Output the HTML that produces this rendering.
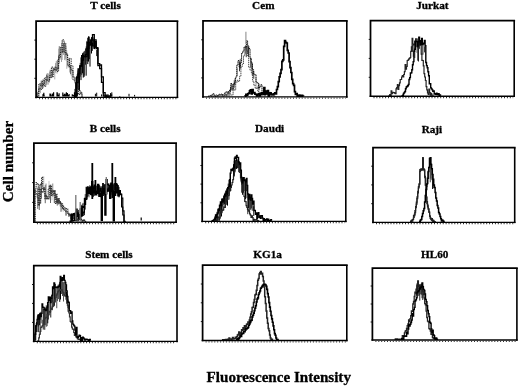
<!DOCTYPE html>
<html><head><meta charset="utf-8"><title>Flow cytometry histograms</title><style>
html,body{margin:0;padding:0;background:#fff;}
body{width:520px;height:386px;position:relative;overflow:hidden;}
svg{position:absolute;left:0;top:0;filter:blur(0.3px);}
text{font-family:"Liberation Serif",serif;font-weight:bold;fill:#000;stroke:#000;stroke-width:0.3px;}
</style></head><body>
<svg width="520" height="386" viewBox="0 0 520 386">
<path d="M37.50,91.9V96.8M48.00,73.7V84.7M59.25,46.1V63.5M60.00,46.6V59.5M63.75,43.2V55.0M65.25,43.9V58.7" stroke="#777" stroke-width="0.9" fill="none"/><path d="M38.25,90.0V96.8M39.00,87.6V95.5M40.50,83.5V93.2M43.50,81.5V88.2M45.00,77.0V87.0M46.50,74.0V83.8M48.75,73.5V80.5M49.50,71.5V82.6M51.75,69.3V78.2M54.00,67.5V75.0M54.75,66.4V79.4M58.50,48.7V61.4M62.25,40.7V59.9M63.00,42.7V54.9M64.50,45.0V60.1M66.75,50.3V68.8M71.25,66.1V75.9M72.00,69.0V78.8M75.75,81.9V89.0" stroke="#aaa" stroke-width="0.9" fill="none"/><path d="M39.75,84.2V91.3M47.25,73.0V80.9M55.50,63.1V72.7M56.25,61.1V69.1M57.00,60.6V73.5M61.50,43.0V62.0M66.00,46.2V60.5M68.25,58.2V67.6M69.75,62.0V72.5" stroke="#999" stroke-width="0.9" fill="none"/><path d="M41.25,80.6V87.3M42.00,82.0V88.3M50.25,69.8V77.7M52.50,70.2V77.2M57.75,59.6V68.9M70.50,64.9V74.2M76.50,83.9V89.3M77.25,83.5V88.7" stroke="#555" stroke-width="0.9" fill="none"/>
<path d="M75.00,88.9V96.8M75.75,82.5V96.8M76.50,76.3V91.9M77.25,74.3V94.5M78.75,69.0V90.1M79.50,67.4V90.9M81.00,57.4V80.1M82.50,53.3V73.3M83.25,52.6V77.6M84.00,51.6V77.0M87.00,40.9V61.2M87.75,37.7V64.1M88.50,36.3V61.6M89.25,36.6V59.2M90.00,38.8V66.6M91.50,37.1V53.5M92.25,37.8V50.9M93.00,37.3V44.9M93.75,39.2V48.8M94.50,39.3V49.1M95.25,41.3V48.0M96.00,42.2V47.2M96.75,49.8V56.1" stroke="#000" stroke-width="1.0" fill="none"/><path d="M78.00,70.5V88.6M80.25,62.9V76.7M81.75,55.2V74.9M84.75,50.8V75.7M85.50,48.4V64.7M86.25,46.4V75.7" stroke="#222" stroke-width="1.0" fill="none"/>
<path d="M37.0,96.8V96.6H38.8V83.8H40.6V85.6H42.4V84.4H44.2V78.7H46.0V80.6H47.8V81.1H49.6V75.6H51.4V67.1H53.2V70.1H55.0V67.2H56.8V71.4H58.6V55.3H60.4V47.5H62.2V51.9H64.0V43.0H65.8V53.8H67.6V65.7H69.4V58.4H71.2V65.9H73.0V80.1H74.8V80.1H76.6V87.8H78.4V94.6H80.2V92.3H82.0V96.8" fill="none" stroke="#222" stroke-width="1.0" stroke-dasharray="1.3 0.9"/>
<path d="M37.0,96.8V93.4H38.8V88.3H40.6V89.3H42.4V80.1H44.2V86.2H46.0V76.0H47.8V79.6H49.6V77.7H51.4V76.9H53.2V69.2H55.0V70.0H56.8V68.9H58.6V57.7H60.4V52.5H62.2V39.8H64.0V52.2H65.8V54.7H67.6V59.5H69.4V67.6H71.2V70.4H73.0V77.2H74.8V83.0H76.6V85.8H78.4V89.9H80.2V93.8H82.0V96.8" fill="none" stroke="#222" stroke-width="1.0" stroke-dasharray="1.3 0.9"/>
<path d="M74.5,96.8V95.7H76.3V82.6H78.1V68.8H79.9V65.9H81.7V55.7H83.5V56.7H85.3V54.7H87.1V48.4H88.9V42.3H90.7V40.2H92.5V34.6H94.3V41.7H96.1V48.7H97.9V63.7H99.7V65.0H101.5V76.9H103.3V96.1H105.1V95.1H106.9V96.3H108.7V96.1H110.5V96.8" fill="none" stroke="#000" stroke-width="1.3"/>
<path d="M74.5,96.8V96.4H76.3V77.6H78.1V73.5H79.9V66.0H81.7V60.0H83.5V56.3H85.3V56.7H87.1V42.6H88.9V45.1H90.7V43.4H92.5V45.9H94.3V39.9H96.1V47.7H97.9V65.6H99.7V68.6H101.5V82.4H103.3V92.7H105.1V96.5H106.9V96.2H108.7V96.1H110.5V96.8" fill="none" stroke="#000" stroke-width="1.3"/>
<path d="M74.5,92.3V96.5M66.2,94.1V96.5M66.4,92.2V96.5M43.8,92.8V96.5M77.2,93.4V96.5M63.3,96.4V96.5M67.4,92.9V96.5M57.3,92.5V96.5M52.3,93.4V96.5M42.7,95.8V96.5M74.3,94.3V96.5M64.9,94.7V96.5M65.8,96.5V96.5M62.8,92.6V96.5M66.9,95.1V96.5M72.8,95.1V96.5M53.6,92.2V96.5M58.1,94.8V96.5M68.4,95.0V96.5M63.5,94.7V96.5M50.4,93.8V96.5M57.0,92.2V96.5M76.3,92.4V96.5M76.9,95.6V96.5M50.0,93.6V96.5M50.9,94.8V96.5M43.1,93.9V96.5M69.1,94.0V96.5M64.6,93.9V96.5M64.6,95.9V96.5M66.3,96.0V96.5M72.3,94.3V96.5M57.0,95.1V96.5M66.6,93.4V96.5M64.5,93.8V96.5M77.3,93.0V96.5M57.1,95.8V96.5M59.1,93.2V96.5M50.2,95.3V96.5M66.0,93.4V96.5M53.2,94.3V96.5M73.3,95.0V96.5M44.1,94.8V96.5M75.9,93.9V96.5M73.4,96.1V96.5" stroke="#000" stroke-width="1.2" fill="none"/>
<path d="M101.6,94.4V96.5M110.5,93.1V96.5M123.2,96.4V96.5M134.6,94.9V96.5M129.0,93.8V96.5M108.0,94.2V96.5M119.7,96.1V96.5M111.7,94.3V96.5M111.8,92.3V96.5M96.7,92.7V96.5M119.9,96.0V96.5M95.4,93.8V96.5" stroke="#000" stroke-width="1.0" fill="none"/>
<path d="M36.1,98.15V21H178.3" fill="none" stroke="#000" stroke-width="1.75"/>
<path d="M177.4,21V98.15" fill="none" stroke="#000" stroke-width="1.6"/>
<path d="M35.2,97.4H178.20000000000002" fill="none" stroke="#000" stroke-width="1.4"/>
<line x1="39.1" y1="98.7" x2="176.4" y2="98.7" stroke="#333" stroke-width="1.3" stroke-dasharray="1 1.9"/>
<line x1="34.300000000000004" y1="40.1" x2="36.1" y2="40.1" stroke="#000" stroke-width="0.9"/>
<line x1="34.300000000000004" y1="59.2" x2="36.1" y2="59.2" stroke="#000" stroke-width="0.9"/>
<line x1="34.300000000000004" y1="78.3" x2="36.1" y2="78.3" stroke="#000" stroke-width="0.9"/>
<path d="M226.00,93.4V96.3M233.50,83.2V88.7M237.25,68.1V76.1M245.50,45.0V53.8M256.00,77.6V86.1" stroke="#888" stroke-width="0.9" fill="none"/><path d="M226.75,93.9V96.3M229.00,91.7V96.3M230.50,86.9V92.4M239.50,62.5V71.3M246.25,46.3V57.2M247.75,45.9V53.8M248.50,47.1V56.7M250.75,57.8V67.5M252.25,63.7V75.4M253.75,71.2V78.8M259.00,83.7V90.3M264.25,90.2V94.0M265.00,92.3V96.3" stroke="#222" stroke-width="0.9" fill="none"/><path d="M232.00,84.7V90.8M234.25,80.2V87.8M235.00,78.3V84.8M240.25,58.8V68.8" stroke="#444" stroke-width="0.9" fill="none"/><path d="M251.50,62.1V69.5" stroke="#666" stroke-width="0.9" fill="none"/>
<path d="M208.0,96.3V96.2H209.2V95.9H210.4V95.1H211.6V95.4H212.8V93.7H214.0V95.2H215.2V96.3H216.4V96.0H217.6V95.3H218.8V94.3H220.0V94.6H221.2V94.0H222.4V96.0H223.6V96.0H224.8V92.8H226.0V91.7H227.2V93.1H228.4V91.5H229.6V90.0H230.8V83.5H232.0V89.3H233.2V84.3H234.4V82.1H235.6V77.0H236.8V65.2H238.0V60.6H239.2V67.3H240.4V62.6H241.6V53.0H242.8V51.1H244.0V47.0H245.2V47.3H246.4V40.7H247.6V45.8H248.8V48.6H250.0V58.2H251.2V62.9H252.4V69.6H253.6V74.1H254.8V74.7H256.0V82.0H257.2V83.2H258.4V88.0H259.6V86.8H260.8V84.8H262.0V93.9H263.2V91.0H264.4V90.8H265.6V91.3H266.8V91.5H268.0V95.6H269.2V92.3H270.4V95.2H271.6V95.0H272.8V95.7H274.0V96.0H275.2V96.3" fill="none" stroke="#111" stroke-width="1.0" stroke-dasharray="1.6 0.5"/>
<path d="M211.0,96.3V96.3H212.3V96.3H213.6V96.0H214.9V96.1H216.2V94.9H217.5V96.1H218.8V95.8H220.1V95.2H221.4V95.8H222.7V94.8H224.0V93.9H225.3V94.9H226.6V95.0H227.9V92.6H229.2V93.7H230.5V95.0H231.8V94.9H233.1V89.1H234.4V90.1H235.7V82.7H237.0V80.3H238.3V81.4H239.6V76.3H240.9V67.1H242.2V64.2H243.5V55.7H244.8V46.6H246.1V50.0H247.4V55.9H248.7V67.2H250.0V70.2H251.3V72.6H252.6V81.2H253.9V85.4H255.2V88.5H256.5V87.1H257.8V91.7H259.1V92.9H260.4V93.6H261.7V95.2H263.0V92.9H264.3V93.1H265.6V91.9H266.9V93.9H268.2V94.9H269.5V94.6H270.8V96.3H272.1V96.3" fill="none" stroke="#333" stroke-width="0.9" stroke-dasharray="1.4 0.7"/>
<path d="M245.0,96.3V96.1H245.9V94.4H246.8V95.1H247.7V93.9H248.6V93.1H249.5V90.8H250.4V89.8H251.3V94.0H252.2V89.6H253.1V92.8H254.0V92.5H254.9V94.2H255.8V94.5H256.7V95.8H257.6V94.4H258.5V93.9H259.4V95.9H260.3V94.3H261.2V92.9H262.1V92.9H263.0V94.3H263.9V87.6H264.8V94.4H265.7V91.1H266.6V93.8H267.5V90.6H268.4V96.2H269.3V93.4H270.2V92.8H271.1V94.0H272.0V94.2H272.9V94.3H273.8V93.9H274.7V92.8H275.6V93.9H276.5V89.5H277.4V86.6H278.3V81.6H279.2V76.9H280.1V73.4H281.0V69.7H281.9V61.4H282.8V59.8H283.7V46.4H284.6V40.7H285.5V42.4H286.4V43.0H287.3V50.3H288.2V53.0H289.1V61.6H290.0V67.7H290.9V72.5H291.8V79.3H292.7V83.6H293.6V85.3H294.5V91.7H295.4V94.3H296.3V93.6H297.2V96.2H298.1V95.9H299.0V95.0H299.9V96.1H300.8V96.0H301.7V95.4H302.6V96.1H303.5V96.3" fill="none" stroke="#000" stroke-width="1.7"/>
<path d="M245.9,31.8V44" stroke="#999" stroke-width="1.2"/>
<path d="M203,97.65V20.8H347.7" fill="none" stroke="#000" stroke-width="1.75"/>
<path d="M346.8,20.8V97.65" fill="none" stroke="#000" stroke-width="1.6"/>
<path d="M202.1,96.9H347.6" fill="none" stroke="#000" stroke-width="1.4"/>
<line x1="206" y1="98.2" x2="345.8" y2="98.2" stroke="#333" stroke-width="1.3" stroke-dasharray="1 1.9"/>
<line x1="201.2" y1="39.8" x2="203" y2="39.8" stroke="#000" stroke-width="0.9"/>
<line x1="201.2" y1="58.9" x2="203" y2="58.9" stroke="#000" stroke-width="0.9"/>
<line x1="201.2" y1="77.9" x2="203" y2="77.9" stroke="#000" stroke-width="0.9"/>
<path d="M412.50,45.2V51.9M414.75,40.6V58.0M417.75,44.6V60.7M418.50,41.4V61.5" stroke="#111" stroke-width="0.9" fill="none"/><path d="M413.25,44.1V56.8M417.00,39.0V52.9M419.25,37.1V49.1M422.25,42.0V54.6M423.00,44.5V54.7" stroke="#444" stroke-width="0.9" fill="none"/><path d="M424.50,46.4V52.4" stroke="#222" stroke-width="0.9" fill="none"/>
<path d="M389.0,95.7V95.6H389.7V94.5H390.4V95.4H391.1V90.9H391.8V93.6H392.5V92.4H393.2V92.7H393.9V92.6H394.6V93.2H395.3V93.6H396.0V88.8H396.7V87.6H397.4V84.7H398.1V89.3H398.8V85.7H399.5V82.8H400.2V79.5H400.9V79.5H401.6V77.0H402.3V75.6H403.0V77.0H403.7V74.5H404.4V71.7H405.1V64.5H405.8V69.2H406.5V66.5H407.2V60.5H407.9V60.2H408.6V59.2H409.3V58.4H410.0V57.5H410.7V51.3H411.4V46.9H412.1V38.4H412.8V44.0H413.5V44.8H414.2V44.3H414.9V41.7H415.6V38.8H416.3V38.9H417.0V46.6H417.7V47.1H418.4V48.0H419.1V42.4H419.8V45.2H420.5V44.9H421.2V54.2H421.9V60.3H422.6V60.5H423.3V65.8H424.0V73.6H424.7V77.0H425.4V80.5H426.1V86.6H426.8V89.8H427.5V93.0H428.2V94.4H428.9V89.1H429.6V92.7H430.3V95.2H431.0V93.3H431.7V95.1H432.4V95.0H433.1V95.7" fill="none" stroke="#222" stroke-width="1.2"/>
<path d="M402.0,95.7V95.6H402.7V95.2H403.4V93.5H404.1V92.5H404.8V91.5H405.5V88.8H406.2V87.0H406.9V86.5H407.6V85.8H408.3V84.5H409.0V79.5H409.7V77.6H410.4V73.0H411.1V72.9H411.8V69.7H412.5V64.8H413.2V61.6H413.9V51.3H414.6V49.2H415.3V41.1H416.0V41.6H416.7V41.4H417.4V46.1H418.1V41.8H418.8V37.1H419.5V40.8H420.2V44.5H420.9V40.7H421.6V38.4H422.3V44.6H423.0V43.8H423.7V43.3H424.4V40.5H425.1V45.7H425.8V62.5H426.5V65.6H427.2V67.7H427.9V71.8H428.6V75.8H429.3V83.8H430.0V83.7H430.7V87.9H431.4V88.9H432.1V89.9H432.8V91.4H433.5V90.9H434.2V93.8H434.9V94.1H435.6V94.4H436.3V93.1H437.0V94.5H437.7V94.3H438.4V93.6H439.1V95.6H439.8V95.0H440.5V95.7" fill="none" stroke="#000" stroke-width="1.4"/>
<path d="M370.5,97.0V20.5H515.1" fill="none" stroke="#000" stroke-width="1.75"/>
<path d="M514.2,20.5V97.0" fill="none" stroke="#000" stroke-width="1.6"/>
<path d="M369.6,96.25H515.0" fill="none" stroke="#000" stroke-width="1.4"/>
<line x1="373.5" y1="97.55" x2="513.2" y2="97.55" stroke="#333" stroke-width="1.3" stroke-dasharray="1 1.9"/>
<line x1="368.7" y1="39.4" x2="370.5" y2="39.4" stroke="#000" stroke-width="0.9"/>
<line x1="368.7" y1="58.4" x2="370.5" y2="58.4" stroke="#000" stroke-width="0.9"/>
<line x1="368.7" y1="77.3" x2="370.5" y2="77.3" stroke="#000" stroke-width="0.9"/>
<path d="M37.75,187.8V208.9M39.25,188.1V210.0M41.50,181.8V198.8M45.25,185.1V203.2M50.50,185.2V203.0M57.25,197.7V205.6M60.25,201.9V206.4M61.00,204.4V211.8M66.25,209.4V215.6M69.25,212.9V216.7" stroke="#555" stroke-width="0.9" fill="none"/><path d="M40.75,184.4V203.5M46.00,183.6V196.2M52.75,183.5V196.9M54.25,192.1V202.9M55.00,190.0V196.9M56.50,195.4V203.2M58.75,199.0V204.7" stroke="#777" stroke-width="0.9" fill="none"/><path d="M43.75,176.3V193.2M49.00,180.9V197.0M52.00,186.9V200.3M63.25,206.1V211.7" stroke="#bbb" stroke-width="0.9" fill="none"/><path d="M61.75,203.9V210.6M62.50,205.0V209.3M65.50,208.9V215.6M68.50,213.2V217.0" stroke="#999" stroke-width="0.9" fill="none"/>
<path d="M86.00,186.8V198.0M87.50,186.2V196.9M88.25,186.5V196.3M94.25,187.3V196.0M98.00,185.1V195.6M107.75,183.4V192.1M110.00,183.4V194.0M116.75,184.3V193.1" stroke="#222" stroke-width="0.9" fill="none"/><path d="M86.75,187.0V198.4M89.00,186.0V197.4M89.75,185.1V192.0M91.25,185.4V196.1M96.50,185.8V193.4M98.75,185.0V193.6M100.25,185.9V193.1M101.75,186.0V197.0M115.25,183.0V191.9M118.25,185.0V195.3" stroke="#444" stroke-width="0.9" fill="none"/><path d="M92.00,185.7V192.9M93.50,186.1V196.8M95.75,185.4V192.6M99.50,185.2V193.6M101.00,186.8V193.7M102.50,186.2V196.1M104.00,184.8V193.5M104.75,184.3V195.1M105.50,184.4V195.1M108.50,183.3V190.6M113.00,183.0V194.6" stroke="#111" stroke-width="0.9" fill="none"/><path d="M107.00,184.2V194.5M110.75,184.2V195.1M111.50,183.5V190.3M114.50,183.1V190.0M116.00,183.7V190.2M117.50,184.1V191.2M119.00,186.9V197.4" stroke="#000" stroke-width="0.9" fill="none"/>
<path d="M71.00,214.1V219.4M74.75,212.6V219.3" stroke="#000" stroke-width="0.9" fill="none"/><path d="M71.75,213.8V220.8M72.50,214.0V221.6M76.25,211.8V221.4M78.50,209.9V221.1M82.25,204.3V217.0M85.25,194.1V209.6" stroke="#222" stroke-width="0.9" fill="none"/><path d="M73.25,214.1V219.3M74.00,213.7V219.2M77.75,210.8V221.6" stroke="#444" stroke-width="0.9" fill="none"/><path d="M75.50,211.6V218.3M80.00,208.3V219.1M81.50,205.2V217.1M83.00,202.9V213.9M84.50,197.7V215.2" stroke="#111" stroke-width="0.9" fill="none"/>
<path d="M35.0,221.6V190.2H36.1V193.6H37.2V198.1H38.3V205.2H39.4V185.2H40.5V184.4H41.6V177.2H42.7V189.5H43.8V187.9H44.9V196.2H46.0V195.4H47.1V199.0H48.2V198.7H49.3V186.0H50.4V185.2H51.5V195.5H52.6V194.9H53.7V190.6H54.8V203.5H55.9V194.2H57.0V202.0H58.1V198.5H59.2V203.1H60.3V202.5H61.4V206.2H62.5V205.3H63.6V208.7H64.7V207.7H65.8V208.5H66.9V209.3H68.0V213.3H69.1V214.6H70.2V214.5H71.3V214.3H72.4V215.3H73.5V219.4H74.6V219.7H75.7V219.4H76.8V220.0H77.9V220.1H79.0V219.6H80.1V220.1H81.2V220.6H82.3V221.2H83.4V219.8H84.5V221.4H85.6V221.6" fill="none" stroke="#333" stroke-width="1.1" stroke-dasharray="1.4 0.8"/>
<path d="M35.0,221.6V188.7H36.1V182.5H37.2V184.4H38.3V203.8H39.4V202.9H40.5V189.0H41.6V192.3H42.7V191.9H43.8V188.5H44.9V198.8H46.0V196.5H47.1V198.7H48.2V189.7H49.3V186.8H50.4V194.0H51.5V190.2H52.6V192.1H53.7V191.8H54.8V193.5H55.9V199.0H57.0V203.2H58.1V198.8H59.2V201.6H60.3V203.4H61.4V203.9H62.5V208.1H63.6V209.3H64.7V210.3H65.8V211.5H66.9V211.8H68.0V214.7H69.1V215.5H70.2V214.9H71.3V215.6H72.4V217.2H73.5V217.2H74.6V218.4H75.7V219.8H76.8V219.4H77.9V219.3H79.0V219.5H80.1V219.2H81.2V220.2H82.3V220.9H83.4V220.8H84.5V221.5H85.6V221.6" fill="none" stroke="#333" stroke-width="1.1" stroke-dasharray="1.4 0.8"/>
<path d="M70.0,221.6V221.0H71.2V214.1H72.4V221.0H73.6V220.4H74.8V218.0H76.0V216.5H77.2V213.4H78.4V218.7H79.6V214.5H80.8V213.0H82.0V206.5H83.2V207.4H84.4V204.3H85.6V198.4H86.8V187.3H88.0V188.8H89.2V189.0H90.4V186.9H91.6V187.8H92.8V188.3H94.0V185.2H95.2V191.0H96.4V193.2H97.6V184.4H98.8V196.4H100.0V193.3H101.2V220.4H102.4V192.8H103.6V188.6H104.8V215.1H106.0V179.6H107.2V184.5H108.4V185.3H109.6V198.5H110.8V183.1H112.0V184.8H113.2V220.9H114.4V190.9H115.6V193.0H116.8V187.2H118.0V195.7H119.2V190.5H120.4V194.2H121.6V198.1H122.8V215.0H124.0V221.4H125.2V221.6" fill="none" stroke="#000" stroke-width="1.2"/>
<path d="M70.0,221.6V221.5H71.2V215.3H72.4V215.2H73.6V213.7H74.8V220.3H76.0V209.0H77.2V213.2H78.4V214.7H79.6V219.5H80.8V208.7H82.0V215.4H83.2V212.2H84.4V198.7H85.6V199.3H86.8V188.4H88.0V193.4H89.2V187.6H90.4V194.3H91.6V181.6H92.8V192.9H94.0V189.9H95.2V194.8H96.4V193.5H97.6V192.7H98.8V191.1H100.0V188.4H101.2V197.0H102.4V191.4H103.6V193.7H104.8V184.9H106.0V189.0H107.2V191.2H108.4V188.2H109.6V194.0H110.8V184.0H112.0V191.7H113.2V193.7H114.4V192.9H115.6V183.6H116.8V185.7H118.0V195.8H119.2V194.7H120.4V194.4H121.6V207.0H122.8V210.8H124.0V221.5H125.2V221.6" fill="none" stroke="#000" stroke-width="1.2"/>
<path d="M141.2,217.6V220.5" stroke="#000" stroke-width="1.2" fill="none"/>
<path d="M106.3,177V194M75.8,195V220.5M80.2,202V220.5" stroke="#777" stroke-width="1.3"/><path d="M92.3,163V199M112.3,163V198M95.4,180V195M103,183V196M115.4,177V196" stroke="#000" stroke-width="1.8"/>
<path d="M33.9,222.95V143H177.0" fill="none" stroke="#000" stroke-width="1.75"/>
<path d="M176.1,143V222.95" fill="none" stroke="#000" stroke-width="1.6"/>
<path d="M33.0,222.2H176.9" fill="none" stroke="#000" stroke-width="1.4"/>
<line x1="36.9" y1="223.5" x2="175.1" y2="223.5" stroke="#333" stroke-width="1.3" stroke-dasharray="1 1.9"/>
<line x1="32.1" y1="162.8" x2="33.9" y2="162.8" stroke="#000" stroke-width="0.9"/>
<line x1="32.1" y1="182.6" x2="33.9" y2="182.6" stroke="#000" stroke-width="0.9"/>
<line x1="32.1" y1="202.4" x2="33.9" y2="202.4" stroke="#000" stroke-width="0.9"/>
<path d="M214.00,218.7V220.8M214.75,216.5V220.8M215.50,215.3V220.8M217.00,211.8V220.8M220.75,201.9V212.7M221.50,201.1V216.5M223.75,195.4V204.7M224.50,194.0V204.0M225.25,192.4V207.9M226.75,188.6V204.8M227.50,187.0V205.6M230.50,173.4V191.4M233.50,164.1V178.8M234.25,160.9V175.6M235.00,160.5V172.3M235.75,159.8V168.5M236.50,159.0V168.9M237.25,159.3V168.3" stroke="#000" stroke-width="1.0" fill="none"/><path d="M216.25,213.8V220.8M219.25,204.6V218.4M220.00,203.7V217.7M222.25,198.8V212.8M223.00,198.0V207.1M229.00,180.0V199.6" stroke="#333" stroke-width="1.0" fill="none"/><path d="M217.75,209.2V220.8M226.00,190.9V202.5M228.25,183.6V194.5" stroke="#111" stroke-width="1.0" fill="none"/>
<path d="M238.00,160.9V168.0M241.00,170.3V180.7M243.25,179.2V192.5M245.50,180.2V199.3M246.25,179.7V191.2M248.50,196.1V208.1M250.75,197.4V209.8" stroke="#000" stroke-width="1.0" fill="none"/><path d="M238.75,162.7V172.2M241.75,177.1V192.7M242.50,178.3V194.8M244.00,178.8V191.2M247.00,186.2V198.2M249.25,197.3V212.6M253.75,206.3V216.0" stroke="#111" stroke-width="1.0" fill="none"/><path d="M239.50,164.0V173.0M244.75,180.2V191.1M247.75,194.2V214.2M250.00,197.6V207.3M251.50,198.4V208.4M252.25,198.2V210.8" stroke="#333" stroke-width="1.0" fill="none"/>
<path d="M216.0,220.8V220.8H216.7V219.8H217.4V216.8H218.1V217.4H218.8V220.2H219.5V218.1H220.2V211.8H220.9V213.2H221.6V210.4H222.3V210.3H223.0V209.8H223.7V207.2H224.4V207.4H225.1V199.4H225.8V200.7H226.5V200.8H227.2V199.3H227.9V195.7H228.6V195.2H229.3V187.9H230.0V190.5H230.7V187.5H231.4V185.0H232.1V182.5H232.8V179.7H233.5V176.0H234.2V170.1H234.9V168.1H235.6V165.7H236.3V161.8H237.0V161.6H237.7V161.3H238.4V165.7H239.1V164.6H239.8V170.8H240.5V177.9H241.2V181.6H241.9V184.5H242.6V191.3H243.3V191.8H244.0V196.4H244.7V201.3H245.4V201.7H246.1V205.7H246.8V207.5H247.5V209.3H248.2V210.9H248.9V211.2H249.6V213.9H250.3V215.2H251.0V217.3H251.7V215.9H252.4V217.6H253.1V220.7H253.8V219.3H254.5V220.1H255.2V220.2H255.9V219.7H256.6V220.0H257.3V220.7H258.0V220.6H258.7V220.8" fill="none" stroke="#222" stroke-width="1.2"/>
<path d="M212.0,220.8V220.6H212.7V220.6H213.4V219.8H214.1V219.8H214.8V218.7H215.5V214.9H216.2V217.5H216.9V214.4H217.6V213.2H218.3V209.0H219.0V210.5H219.7V205.7H220.4V202.0H221.1V205.6H221.8V199.2H222.5V202.1H223.2V200.8H223.9V196.8H224.6V194.1H225.3V196.0H226.0V191.1H226.7V193.4H227.4V188.6H228.1V187.7H228.8V186.3H229.5V179.6H230.2V173.2H230.9V169.4H231.6V170.5H232.3V168.9H233.0V168.2H233.7V167.9H234.4V158.1H235.1V157.0H235.8V158.7H236.5V155.5H237.2V157.4H237.9V157.5H238.6V162.0H239.3V164.1H240.0V162.8H240.7V170.1H241.4V177.4H242.1V182.8H242.8V180.7H243.5V177.6H244.2V180.7H244.9V179.8H245.6V181.9H246.3V178.5H247.0V185.4H247.7V194.0H248.4V199.0H249.1V194.4H249.8V197.4H250.5V200.2H251.2V194.9H251.9V198.3H252.6V204.1H253.3V201.1H254.0V210.5H254.7V210.3H255.4V214.3H256.1V212.9H256.8V218.6H257.5V214.0H258.2V212.6H258.9V217.3H259.6V216.0H260.3V218.3H261.0V215.6H261.7V215.7H262.4V218.1H263.1V220.3H263.8V218.7H264.5V220.5H265.2V219.6H265.9V220.0H266.6V218.8H267.3V220.7H268.0V219.2H268.7V220.6H269.4V220.5H270.1V220.5H270.8V219.6H271.5V220.8" fill="none" stroke="#000" stroke-width="1.3"/>
<path d="M202.2,222.15V146.8H346.7" fill="none" stroke="#000" stroke-width="1.75"/>
<path d="M345.8,146.8V222.15" fill="none" stroke="#000" stroke-width="1.6"/>
<path d="M201.29999999999998,221.4H346.6" fill="none" stroke="#000" stroke-width="1.4"/>
<line x1="205.2" y1="222.70000000000002" x2="344.8" y2="222.70000000000002" stroke="#333" stroke-width="1.3" stroke-dasharray="1 1.9"/>
<line x1="200.39999999999998" y1="165.5" x2="202.2" y2="165.5" stroke="#000" stroke-width="0.9"/>
<line x1="200.39999999999998" y1="184.1" x2="202.2" y2="184.1" stroke="#000" stroke-width="0.9"/>
<line x1="200.39999999999998" y1="202.8" x2="202.2" y2="202.8" stroke="#000" stroke-width="0.9"/>
<path d="M426.50,185.7V192.2M431.00,163.3V178.6M432.50,175.2V189.0" stroke="#000" stroke-width="0.9" fill="none"/><path d="M427.25,179.7V187.1M428.75,166.8V179.0M431.75,168.0V180.2" stroke="#555" stroke-width="0.9" fill="none"/><path d="M428.00,172.0V184.0M430.25,159.2V182.3" stroke="#333" stroke-width="0.9" fill="none"/><path d="M433.25,181.8V188.3" stroke="#111" stroke-width="0.9" fill="none"/>
<path d="M410.0,221.8V221.8H410.7V221.2H411.4V220.6H412.1V219.8H412.8V219.5H413.5V217.3H414.2V215.7H414.9V212.7H415.6V206.7H416.3V204.2H417.0V198.7H417.7V193.0H418.4V188.0H419.1V183.6H419.8V171.3H420.5V170.5H421.2V169.1H421.9V168.9H422.6V157.8H423.3V169.4H424.0V169.5H424.7V176.3H425.4V185.4H426.1V197.4H426.8V203.6H427.5V207.0H428.2V209.2H428.9V212.1H429.6V216.1H430.3V218.1H431.0V219.7H431.7V218.7H432.4V220.1H433.1V221.3H433.8V221.3H434.5V221.6H435.2V221.8" fill="none" stroke="#222" stroke-width="1.2"/>
<path d="M410.0,221.8V221.8H410.7V221.8H411.4V220.4H412.1V221.2H412.8V219.3H413.5V215.6H414.2V214.3H414.9V210.6H415.6V207.6H416.3V202.1H417.0V196.8H417.7V191.4H418.4V186.7H419.1V184.5H419.8V169.5H420.5V169.2H421.2V169.4H421.9V170.2H422.6V157.8H423.3V168.7H424.0V170.6H424.7V177.6H425.4V184.9H426.1V196.8H426.8V201.7H427.5V205.2H428.2V208.8H428.9V212.1H429.6V216.2H430.3V218.3H431.0V219.4H431.7V220.5H432.4V221.2H433.1V220.3H433.8V221.3H434.5V221.6H435.2V221.8" fill="none" stroke="#222" stroke-width="1.2"/>
<path d="M419.0,221.8V221.8H419.7V221.3H420.4V220.0H421.1V219.4H421.8V216.6H422.5V213.6H423.2V210.7H423.9V208.6H424.6V202.0H425.3V195.4H426.0V189.4H426.7V184.0H427.4V178.2H428.1V171.5H428.8V167.5H429.5V158.5H430.2V157.8H430.9V164.5H431.6V168.8H432.3V174.4H433.0V179.3H433.7V184.9H434.4V187.4H435.1V192.4H435.8V198.0H436.5V200.9H437.2V205.5H437.9V208.0H438.6V212.4H439.3V214.0H440.0V216.6H440.7V218.8H441.4V221.1H442.1V220.0H442.8V221.0H443.5V221.4H444.2V221.8" fill="none" stroke="#000" stroke-width="1.5"/>
<path d="M373,223.15V147.5H515.6" fill="none" stroke="#000" stroke-width="1.75"/>
<path d="M514.7,147.5V223.15" fill="none" stroke="#000" stroke-width="1.6"/>
<path d="M372.1,222.4H515.5" fill="none" stroke="#000" stroke-width="1.4"/>
<line x1="376" y1="223.70000000000002" x2="513.7" y2="223.70000000000002" stroke="#333" stroke-width="1.3" stroke-dasharray="1 1.9"/>
<line x1="371.2" y1="166.2" x2="373" y2="166.2" stroke="#000" stroke-width="0.9"/>
<line x1="371.2" y1="184.9" x2="373" y2="184.9" stroke="#000" stroke-width="0.9"/>
<line x1="371.2" y1="203.7" x2="373" y2="203.7" stroke="#000" stroke-width="0.9"/>
<path d="M35.00,332.4V340.8M35.75,325.0V340.0M43.25,308.9V329.6M44.75,307.3V329.8M47.00,306.0V326.1M50.75,298.1V317.5M58.25,284.6V299.1M65.00,282.0V293.9M68.75,305.3V309.2" stroke="#222" stroke-width="1.0" fill="none"/><path d="M36.50,322.0V332.0M38.00,316.5V326.5M39.50,313.6V325.2M41.00,311.8V323.4M44.00,308.8V324.9M50.00,299.3V312.9M52.25,294.4V310.2M53.00,288.8V302.1M54.50,284.1V305.8M59.75,281.8V301.9M61.25,277.6V294.0M62.75,281.5V296.0M65.75,285.5V296.8M67.25,294.1V303.0M68.00,299.5V307.9" stroke="#111" stroke-width="1.0" fill="none"/><path d="M37.25,316.4V332.1M40.25,316.6V334.2M45.50,307.5V325.2M46.25,305.1V326.8M48.50,303.5V319.5M53.75,285.5V306.8M56.75,286.2V308.2M57.50,286.0V301.1M63.50,282.2V301.5M64.25,282.9V296.3" stroke="#555" stroke-width="1.0" fill="none"/><path d="M38.75,314.0V332.2M47.75,302.2V323.3M55.25,283.8V302.5M60.50,279.7V299.5M66.50,291.9V300.7" stroke="#000" stroke-width="1.0" fill="none"/>
<path d="M38.0,340.8V340.5H38.7V337.9H39.4V334.3H40.1V331.5H40.8V327.4H41.5V326.8H42.2V325.7H42.9V320.4H43.6V320.9H44.3V318.6H45.0V318.4H45.7V317.3H46.4V317.3H47.1V314.5H47.8V315.4H48.5V314.7H49.2V311.4H49.9V311.6H50.6V309.4H51.3V308.6H52.0V307.0H52.7V306.2H53.4V302.5H54.1V300.8H54.8V299.5H55.5V297.5H56.2V295.2H56.9V293.8H57.6V291.9H58.3V291.0H59.0V290.2H59.7V290.3H60.4V289.5H61.1V290.3H61.8V289.8H62.5V292.0H63.2V292.6H63.9V294.3H64.6V295.6H65.3V296.2H66.0V299.1H66.7V303.2H67.4V305.3H68.1V311.2H68.8V312.8H69.5V316.9H70.2V321.5H70.9V322.1H71.6V327.2H72.3V328.9H73.0V329.5H73.7V332.5H74.4V335.4H75.1V334.2H75.8V337.0H76.5V336.6H77.2V338.7H77.9V339.2H78.6V339.3H79.3V339.4H80.0V339.7H80.7V340.4H81.4V340.4H82.1V340.8" fill="none" stroke="#333" stroke-width="1.2"/>
<path d="M35.0,340.8V334.3H35.7V325.8H36.4V324.0H37.1V319.4H37.8V315.1H38.5V318.4H39.2V319.0H39.9V313.5H40.6V316.6H41.3V313.4H42.0V303.8H42.7V307.2H43.4V307.5H44.1V309.5H44.8V309.1H45.5V310.6H46.2V309.9H46.9V307.1H47.6V302.7H48.3V296.9H49.0V300.4H49.7V297.2H50.4V302.5H51.1V298.3H51.8V295.4H52.5V287.0H53.2V288.5H53.9V282.8H54.6V287.3H55.3V287.1H56.0V287.4H56.7V287.7H57.4V287.6H58.1V286.3H58.8V286.5H59.5V284.5H60.2V276.4H60.9V280.0H61.6V280.6H62.3V277.7H63.0V280.0H63.7V275.3H64.4V280.4H65.1V282.5H65.8V284.9H66.5V290.9H67.2V296.4H67.9V302.0H68.6V302.3H69.3V310.8H70.0V310.6H70.7V313.4H71.4V312.0H72.1V321.0H72.8V324.2H73.5V325.1H74.2V326.1H74.9V330.1H75.6V334.8H76.3V327.3H77.0V337.4H77.7V337.5H78.4V336.3H79.1V335.2H79.8V335.6H80.5V340.8H81.2V337.7H81.9V340.7H82.6V337.1H83.3V337.8H84.0V338.8H84.7V340.1H85.4V339.7H86.1V339.2H86.8V339.5H87.5V339.6H88.2V340.3H88.9V340.5H89.6V339.3H90.3V340.8" fill="none" stroke="#000" stroke-width="1.3"/>
<path d="M33.8,342.15V265.5H177.9" fill="none" stroke="#000" stroke-width="1.75"/>
<path d="M177,265.5V342.15" fill="none" stroke="#000" stroke-width="1.6"/>
<path d="M32.9,341.4H177.8" fill="none" stroke="#000" stroke-width="1.4"/>
<line x1="36.8" y1="342.7" x2="176" y2="342.7" stroke="#333" stroke-width="1.3" stroke-dasharray="1 1.9"/>
<line x1="31.999999999999996" y1="284.5" x2="33.8" y2="284.5" stroke="#000" stroke-width="0.9"/>
<line x1="31.999999999999996" y1="303.4" x2="33.8" y2="303.4" stroke="#000" stroke-width="0.9"/>
<line x1="31.999999999999996" y1="322.4" x2="33.8" y2="322.4" stroke="#000" stroke-width="0.9"/>
<path d="M222.0,339.9V339.9H222.7V339.8H223.4V339.8H224.1V339.7H224.8V339.8H225.5V339.5H226.2V339.5H226.9V339.5H227.6V339.2H228.3V339.8H229.0V338.1H229.7V338.9H230.4V339.0H231.1V339.8H231.8V339.0H232.5V337.4H233.2V339.0H233.9V338.4H234.6V338.6H235.3V337.3H236.0V338.1H236.7V336.8H237.4V335.0H238.1V334.6H238.8V332.1H239.5V335.0H240.2V333.9H240.9V332.5H241.6V329.8H242.3V330.2H243.0V327.8H243.7V329.3H244.4V325.7H245.1V327.6H245.8V326.5H246.5V324.2H247.2V324.1H247.9V322.1H248.6V322.6H249.3V319.9H250.0V317.2H250.7V313.9H251.4V311.7H252.1V307.6H252.8V307.3H253.5V302.5H254.2V299.6H254.9V295.1H255.6V294.2H256.3V290.2H257.0V285.4H257.7V280.2H258.4V278.6H259.1V274.0H259.8V272.7H260.5V271.4H261.2V273.9H261.9V273.2H262.6V276.4H263.3V280.9H264.0V287.0H264.7V296.7H265.4V303.5H266.1V311.0H266.8V317.9H267.5V323.2H268.2V328.5H268.9V330.7H269.6V335.1H270.3V338.1H271.0V339.8H271.7V339.2H272.4V339.9" fill="none" stroke="#222" stroke-width="1.5"/>
<path d="M236.0,339.9V339.9H236.7V339.6H237.4V338.7H238.1V339.9H238.8V338.1H239.5V337.0H240.2V335.9H240.9V336.5H241.6V334.0H242.3V333.3H243.0V333.5H243.7V331.6H244.4V331.7H245.1V330.2H245.8V328.9H246.5V328.6H247.2V328.2H247.9V327.5H248.6V325.2H249.3V323.9H250.0V322.4H250.7V320.8H251.4V320.1H252.1V316.9H252.8V315.2H253.5V313.1H254.2V310.6H254.9V308.2H255.6V305.8H256.3V301.9H257.0V299.1H257.7V297.9H258.4V294.5H259.1V292.7H259.8V291.0H260.5V288.3H261.2V287.5H261.9V286.4H262.6V285.4H263.3V284.6H264.0V284.4H264.7V284.2H265.4V285.0H266.1V286.2H266.8V289.4H267.5V293.6H268.2V297.0H268.9V302.6H269.6V307.1H270.3V311.3H271.0V315.5H271.7V318.9H272.4V322.2H273.1V325.9H273.8V329.7H274.5V333.6H275.2V335.3H275.9V338.0H276.6V339.9H277.3V339.6H278.0V339.9H278.7V339.9" fill="none" stroke="#000" stroke-width="1.6"/>
<path d="M202.6,341.25V265.1H347.7" fill="none" stroke="#000" stroke-width="1.75"/>
<path d="M346.8,265.1V341.25" fill="none" stroke="#000" stroke-width="1.6"/>
<path d="M201.7,340.5H347.6" fill="none" stroke="#000" stroke-width="1.4"/>
<line x1="205.6" y1="341.8" x2="345.8" y2="341.8" stroke="#333" stroke-width="1.3" stroke-dasharray="1 1.9"/>
<line x1="200.79999999999998" y1="284.0" x2="202.6" y2="284.0" stroke="#000" stroke-width="0.9"/>
<line x1="200.79999999999998" y1="302.8" x2="202.6" y2="302.8" stroke="#000" stroke-width="0.9"/>
<line x1="200.79999999999998" y1="321.6" x2="202.6" y2="321.6" stroke="#000" stroke-width="0.9"/>
<path d="M416.00,288.5V294.4M419.75,284.5V300.6M422.00,283.6V298.2M422.75,286.1V300.0" stroke="#111" stroke-width="0.9" fill="none"/><path d="M416.75,285.2V295.7M417.50,282.5V292.9M419.00,284.2V295.6M421.25,283.6V294.7" stroke="#000" stroke-width="0.9" fill="none"/><path d="M418.25,281.9V296.1M420.50,284.1V294.2" stroke="#444" stroke-width="0.9" fill="none"/>
<path d="M394.6,339.4V339.4H395.3V339.0H396.0V339.4H396.7V339.0H397.4V339.3H398.1V339.3H398.8V339.1H399.5V339.3H400.2V339.1H400.9V339.1H401.6V338.5H402.3V335.7H403.0V336.5H403.7V335.9H404.4V332.8H405.1V331.1H405.8V330.7H406.5V328.5H407.2V325.6H407.9V323.9H408.6V320.0H409.3V321.7H410.0V318.7H410.7V315.6H411.4V311.0H412.1V311.4H412.8V304.0H413.5V301.3H414.2V296.3H414.9V292.1H415.6V293.1H416.3V289.4H417.0V284.1H417.7V281.0H418.4V286.4H419.1V285.7H419.8V285.5H420.5V287.6H421.2V285.4H421.9V285.9H422.6V291.2H423.3V294.5H424.0V297.9H424.7V303.7H425.4V304.8H426.1V311.1H426.8V317.5H427.5V321.2H428.2V321.8H428.9V328.7H429.6V329.2H430.3V331.0H431.0V334.4H431.7V334.0H432.4V337.5H433.1V338.0H433.8V338.7H434.5V338.8H435.2V339.4H435.9V339.3H436.6V339.4" fill="none" stroke="#222" stroke-width="1.3"/>
<path d="M401.0,339.4V339.4H401.7V338.6H402.4V339.4H403.1V339.2H403.8V336.3H404.5V336.2H405.2V335.9H405.9V336.4H406.6V332.2H407.3V333.7H408.0V329.0H408.7V324.4H409.4V326.0H410.1V324.3H410.8V322.5H411.5V320.0H412.2V313.7H412.9V316.1H413.6V309.6H414.3V307.4H415.0V301.1H415.7V299.9H416.4V297.8H417.1V292.7H417.8V291.6H418.5V290.8H419.2V288.0H419.9V289.0H420.6V287.3H421.3V286.6H422.0V283.0H422.7V286.7H423.4V289.4H424.1V290.5H424.8V294.0H425.5V299.4H426.2V301.8H426.9V305.6H427.6V310.5H428.3V313.7H429.0V316.6H429.7V322.2H430.4V323.3H431.1V328.9H431.8V332.5H432.5V330.2H433.2V334.8H433.9V335.6H434.6V338.3H435.3V339.2H436.0V338.0H436.7V339.1H437.4V339.4H438.1V339.4" fill="none" stroke="#000" stroke-width="1.4"/>
<path d="M372.4,340.75V268H517.8" fill="none" stroke="#000" stroke-width="1.75"/>
<path d="M516.9,268V340.75" fill="none" stroke="#000" stroke-width="1.6"/>
<path d="M371.5,340H517.6999999999999" fill="none" stroke="#000" stroke-width="1.4"/>
<line x1="375.4" y1="341.3" x2="515.9" y2="341.3" stroke="#333" stroke-width="1.3" stroke-dasharray="1 1.9"/>
<line x1="370.59999999999997" y1="286.0" x2="372.4" y2="286.0" stroke="#000" stroke-width="0.9"/>
<line x1="370.59999999999997" y1="304.0" x2="372.4" y2="304.0" stroke="#000" stroke-width="0.9"/>
<line x1="370.59999999999997" y1="322.0" x2="372.4" y2="322.0" stroke="#000" stroke-width="0.9"/>
<text x="90.2" y="8.5" font-size="11.2">T cells</text>
<text x="252.1" y="8.55" font-size="11.2">Cem</text>
<text x="416.2" y="8.55" font-size="11.2">Jurkat</text>
<text x="89.8" y="132.0" font-size="11.2">B cells</text>
<text x="255" y="132.4" font-size="11.2">Daudi</text>
<text x="421.7" y="132.6" font-size="11.2">Raji</text>
<text x="85.2" y="258.2" font-size="11.2">Stem cells</text>
<text x="253.3" y="258.2" font-size="11.2">KG1a</text>
<text x="421" y="258.2" font-size="11.2">HL60</text>
<text x="206.6" y="382.1" font-size="15.1">Fluorescence Intensity</text>
<text transform="translate(12.6,202.3) rotate(-90)" x="0" y="0" font-size="15.2">Cell number</text>
</svg>
</body></html>
